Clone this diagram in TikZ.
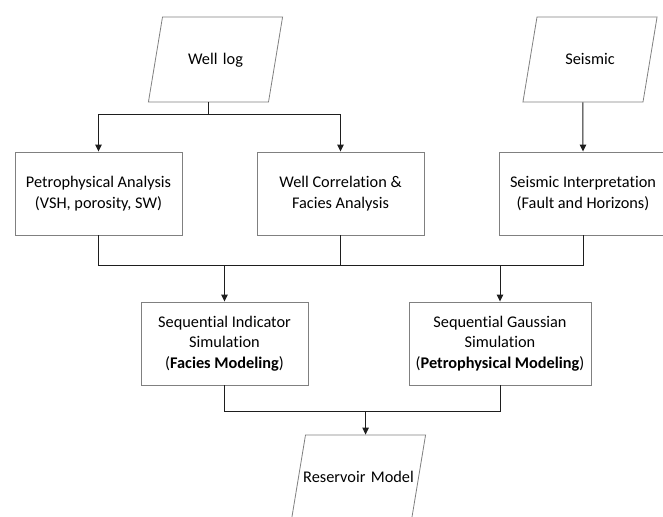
\documentclass[tikz,border=0pt]{standalone}
\usepackage{fontspec}
\setmainfont{Carlito}[Ligatures=CommonOff]
\usepackage{tikz}
\usetikzlibrary{arrows.meta}
\usetikzlibrary{shapes.geometric}
\usetikzlibrary{calc}
\definecolor{edgegray}{RGB}{128,128,128}
\definecolor{linegray}{RGB}{30,30,30}
\tikzset{
    >={Triangle[width=6.5pt,length=7pt]},
    process/.style={draw=edgegray, line width=0.9pt, fill=white,
        minimum height=83pt, inner sep=2pt, align=center,
        font=\fontsize{16.3}{20.5}\selectfont},
    data/.style={draw=edgegray, line width=0.8pt, fill=white, trapezium,
        trapezium left angle=80.6, trapezium right angle=99.4,
        text width=106pt, align=center, text height=12pt, text depth=2pt,
        inner xsep=0pt, inner ysep=35.5pt,
        font=\fontsize{16.3}{20.5}\selectfont},
    flow/.style={draw=linegray, line width=1pt},
}

\begin{document}
\begin{tikzpicture}[x=1pt, y=-1pt]
\useasboundingbox (0,0) rectangle (663,516);
\clip (0,0) rectangle (663,516);
% \draw[step=50, very thin, gray!30] (0,0) grid (663,516);
\node[data] (welllog) at (215.5,59.5) {Well log};
\node[data] (seismic) at (590,59.5) {Seismic};
\node[process, minimum width=167pt] (petro) at (98.5,193.5) {Petrophysical Analysis\\(VSH, porosity, SW)};
\node[process, minimum width=167pt] (corr) at (340.5,193.5) {Well Correlation \&\\Facies Analysis};
\node[process, minimum width=167pt] (seisint) at (583,193.5) {Seismic Interpretation\\(Fault and Horizons)};
\node[process, minimum width=167pt] (sis) at (224.5,343.5) {Sequential Indicator\\Simulation\\(\textbf{Facies Modeling})};
\node[process, minimum width=182pt] (sgs) at (500,343.5) {Sequential Gaussian\\Simulation\\(\textbf{Petrophysical Modeling})};
\node[data] (reservoir) at (358.5,477.5) {\makebox[106pt]{Reservoir Model}};
% well log splits to both analyses
\draw[flow] (welllog.bottom side) -- ++(0,12) coordinate (split);
\draw[flow,->] (split) -| (petro.north);
\draw[flow,->] (split) -| (corr.north);
\draw[flow,->] (seismic.bottom side) -- (seisint.north);
% collect the three interpretations
\draw[flow] (petro.south) -- ++(0,30) coordinate (merge) -- (merge -| seisint.south) -- (seisint.south);
\draw[flow] (corr.south) -- (corr.south |- merge);
\draw[flow,->] (merge -| sis.north) -- (sis.north);
\draw[flow,->] (merge -| sgs.north) -- (sgs.north);
% both simulations give the model
\draw[flow] (sis.south) -- ++(0,26) coordinate (model) -| (sgs.south);
\draw[flow,->] (model -| reservoir.top side) -- (reservoir.top side);
\end{tikzpicture}
\end{document}
